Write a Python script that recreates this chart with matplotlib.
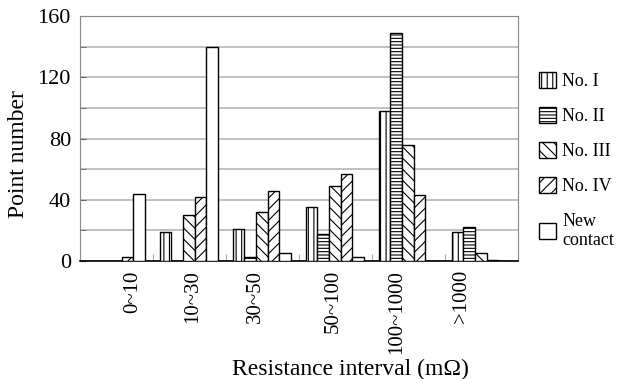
import matplotlib.pyplot as plt
import numpy as np
from matplotlib.patches import Patch
from matplotlib.ticker import FixedLocator, NullFormatter
import matplotlib.transforms as mtransforms

plt.rcParams['font.family'] = ['Liberation Serif', 'DejaVu Serif']
plt.rcParams['hatch.linewidth'] = 0.8

intervals = ['0~10', '10~30', '30~50', '50~100', '100~1000', '>1000']
no1 = [0, 19, 21, 35, 98, 19]
no2 = [0, 0, 3, 18, 149, 22]
no3 = [0, 30, 32, 49, 76, 5]
no4 = [3, 42, 46, 57, 43, 1]
new_contact = [44, 140, 5, 3, 0, 0]

series = [no1, no2, no3, no4, new_contact]
names = ['No. I', 'No. II', 'No. III', 'No. IV', 'New\ncontact']
hatches = ['|||', '-----', '\\\\\\', '///', '']
# where the rotated labels sit (they are not centred in the original)
label_pos = [0.726, 1.548, 2.397, 3.466, 4.342, 5.233]

fig = plt.figure(figsize=(6.18, 3.79), dpi=100)
ax = fig.add_axes([0.1294, 0.311, 0.7087, 0.647])

x = np.arange(len(intervals))
w = 0.16
for k, (vals, h) in enumerate(zip(series, hatches)):
    ax.bar(x + 0.17 + k * w, vals, width=w, color='white', edgecolor='black',
           hatch=h, linewidth=1.0, zorder=3)

ax.set_xlim(0, 6)
ax.set_ylim(0, 160)
ax.set_yticks([0, 40, 80, 120, 160])
ax.yaxis.set_minor_locator(FixedLocator(np.arange(0, 161, 20)))
ax.grid(axis='y', which='both', color='#bbbbbb', linewidth=1.3, zorder=0)
ax.tick_params(axis='y', which='both', direction='in', length=4, colors='#666666')
ax.tick_params(axis='y', labelsize=16, labelcolor='black', pad=6.5)

ax.xaxis.set_major_locator(FixedLocator([1, 2, 3, 4, 5]))
ax.xaxis.set_major_formatter(NullFormatter())
ax.tick_params(axis='x', which='major', direction='in', length=5, color='#aaaaaa')

# rotated labels, end of the string hanging just under the axis
tr = ax.get_xaxis_transform() + mtransforms.ScaledTranslation(0, -0.09, fig.dpi_scale_trans)
for p, lab in zip(label_pos, intervals):
    ax.text(p, 0, lab, transform=tr, rotation=90, rotation_mode='anchor',
            ha='right', va='center', fontsize=15)

for s in ['top', 'right', 'left']:
    ax.spines[s].set_color('#888888')
ax.spines['bottom'].set_color('black')
ax.spines['bottom'].set_linewidth(1.2)

ax.set_ylabel('Point number', fontsize=17)
ax.yaxis.set_label_coords(-0.116, 0.437)
fig.text(0.567, -0.002, 'Resistance interval (m\u03a9)', fontsize=17, ha='center', va='bottom')

handles = [Patch(facecolor='white', edgecolor='black', hatch=h, linewidth=1.0) for h in hatches]
fig.legend(handles, names, loc='upper left', bbox_to_anchor=(0.872, 0.81),
           frameon=False, fontsize=13, handlelength=0.95, handleheight=0.95,
           handletextpad=0.35, labelspacing=0.95, borderpad=0, borderaxespad=0)

fig.savefig('out.png', dpi=100)
